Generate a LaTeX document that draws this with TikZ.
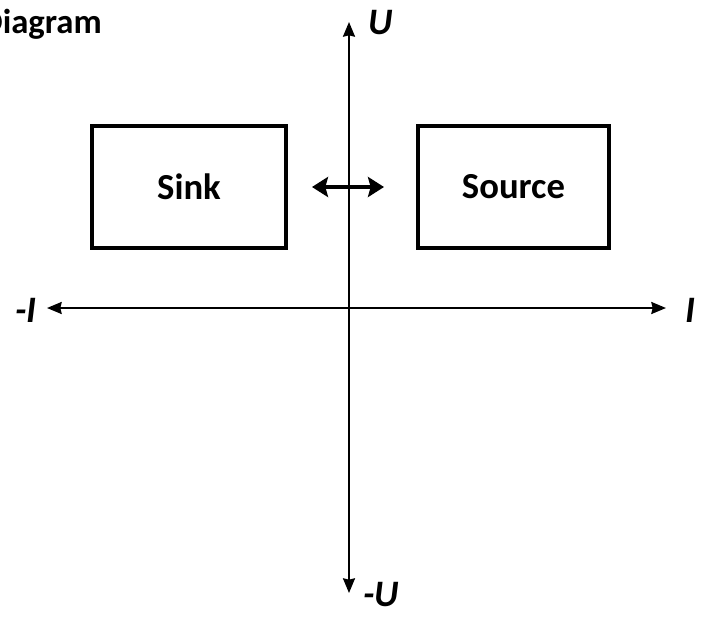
\documentclass[tikz,border=0pt]{standalone}
\usepackage{fontspec}
\setmainfont{Carlito}
\usetikzlibrary{arrows.meta,positioning}
\tikzset{
  modebox/.style={rectangle,draw=black,line width=3pt,minimum width=145.5pt,minimum height=91.5pt,inner sep=0pt,font=\fontsize{27.5}{30}\selectfont\bfseries},
  axis/.style={line width=1.5pt,black,{Stealth[length=11pt,width=9pt,inset=1pt]}-{Stealth[length=11pt,width=9pt,inset=1pt]}},
  swap/.style={line width=3pt,black,{Stealth[length=12pt,width=15pt,inset=2pt]}-{Stealth[length=12pt,width=15pt,inset=2pt]}},
  axlab/.style={font=\fontsize{28}{30}\selectfont\bfseries\itshape,inner sep=0pt},
  title/.style={font=\fontsize{26}{30}\selectfont\bfseries,inner sep=0pt}
}
\begin{document}
\begin{tikzpicture}[x=0.75pt,y=-0.75pt]
  \useasboundingbox (0,0) rectangle (708,618);
  % axes
  \coordinate (top) at (349,22);
  \coordinate (bot) at (349,593);
  \coordinate (lft) at (47,308);
  \coordinate (rgt) at (666,308);
  \draw[axis] (bot) -- (top);
  \draw[axis] (lft) -- (rgt);
  \node[axlab] (U) at (381,23) {U};
  \node[axlab] (mU) at (381,595) {-U};
  \node[axlab] (mI) at (26,310) {-I};
  \node[axlab] (I) at (690,310) {I};
  % boxes
  \node[modebox] (sink) at (189,187) {Sink};
  \node[modebox,minimum width=143pt] (source) at (513.5,187) {Source};
  \coordinate (swl) at (312,187);
  \coordinate (swr) at (384,187);
  \draw[swap] (swl) -- (swr);
  \node[title,anchor=base east] (diag) at (102,33) {Diagram};
\end{tikzpicture}
\end{document}
